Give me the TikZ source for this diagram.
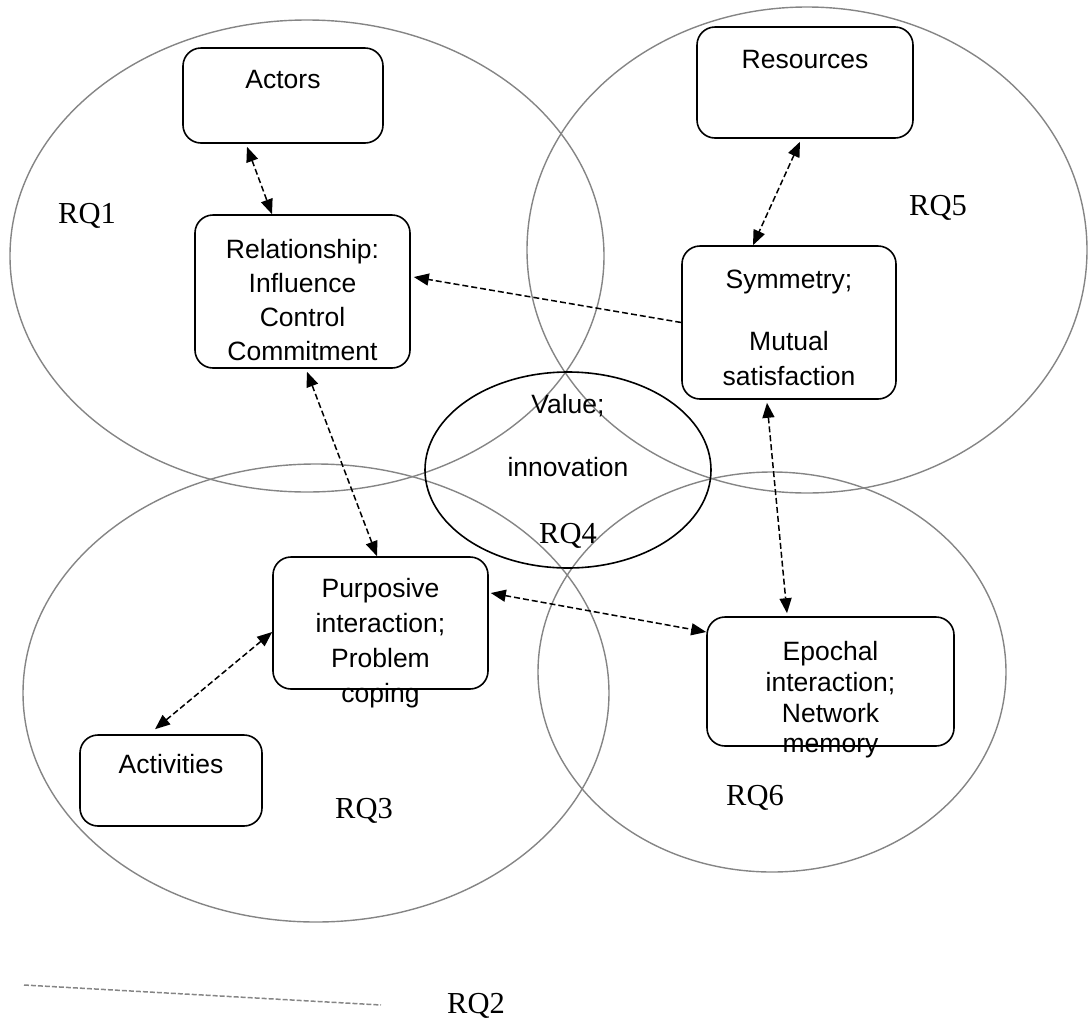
\documentclass[tikz,border=0pt]{standalone}
\usepackage{fontspec}
\newfontfamily\boxfont{Liberation Sans}
\newfontfamily\rqfont{Liberation Serif}
\usetikzlibrary{shapes.geometric,arrows.meta}

% lines of text set below the top edge of a box: offset/text pairs
\newcommand\stackedlines[2]{%
  \foreach \dy/\t [count=\k] in {#2}
    \node[btext,anchor=base] (#1-\k) at ([yshift=-\dy pt]#1.north) {\t};}

\begin{document}
\begin{tikzpicture}[x=1pt,y=-1pt,
  region/.style={draw=black!48, line width=1.4pt, ellipse, inner sep=0pt},
  rbox/.style={draw=black, line width=1.6pt, rounded corners=18pt, inner sep=0pt},
  btext/.style={font=\boxfont\fontsize{26.5}{32}\selectfont, inner sep=0pt},
  rqlabel/.style={font=\rqfont\fontsize{30.5}{36}\selectfont, inner sep=0pt, anchor=base},
  link/.style={line width=1.5pt, dash pattern=on 6pt off 3pt},
  oneway/.style={link, -{Triangle[length=15pt,width=12pt]}},
  twoway/.style={link, {Triangle[length=15pt,width=12pt]}-{Triangle[length=15pt,width=12pt]}},
  legendline/.style={draw=black!48, line width=1.5pt, dash pattern=on 5pt off 2pt}
]
\useasboundingbox (0,0) rectangle (1088,1021);

% research-question regions
\node[region, minimum width=594pt, minimum height=472pt] (rq1) at (307,256) {};
\node[region, minimum width=560pt, minimum height=486pt] (rq5) at (807,250) {};
\node[region, minimum width=586pt, minimum height=458pt] (rq3) at (316,693) {};
\node[region, minimum width=468pt, minimum height=400pt] (rq6) at (772,672) {};
\node[draw=black, line width=1.6pt, ellipse, inner sep=0pt,
      minimum width=286pt, minimum height=196pt] (val) at (568,470) {};
\stackedlines{val}{42/Value;,105/innovation}

% concept boxes
\node[rbox, minimum width=200pt, minimum height=95pt]  (act)  at (283,95.5) {};
\node[rbox, minimum width=215pt, minimum height=153pt] (rel)  at (302.5,291.5) {};
\node[rbox, minimum width=216pt, minimum height=111pt] (res)  at (805,82.5) {};
\node[rbox, minimum width=214pt, minimum height=153pt] (sym)  at (789,322.5) {};
\node[rbox, minimum width=215pt, minimum height=132pt] (pur)  at (380.5,623) {};
\node[rbox, minimum width=247pt, minimum height=129pt] (epo)  at (830.5,681.5) {};
\node[rbox, minimum width=182pt, minimum height=91pt]  (actv) at (171,780.5) {};

\stackedlines{act}{41/Actors}
\stackedlines{rel}{44/Relationship:,78/Influence,112/Control,146/Commitment}
\stackedlines{res}{42/Resources}
\stackedlines{sym}{43/Symmetry;,105/Mutual,140/satisfaction}
\stackedlines{pur}{41/Purposive,76/interaction;,111/Problem,146/coping}
\stackedlines{epo}{44/Epochal,75/interaction;,106/Network,136/memory}
\stackedlines{actv}{39/Activities}

% region labels
\node[rqlabel] (l1) at (87,223)  {RQ1};
\node[rqlabel] (l5) at (938,215) {RQ5};
\node[rqlabel] (l4) at (568,543) {RQ4};
\node[rqlabel] (l3) at (364,818) {RQ3};
\node[rqlabel] (l6) at (755,805) {RQ6};
\node[rqlabel] (l2) at (476,1013) {RQ2};

% links between concepts
\draw[twoway] ([xshift=-36pt,yshift=-3pt]act.south) -- ([xshift=-30.5pt]rel.north);
\draw[oneway] (sym.west) -- ([xshift=3pt,yshift=14.5pt]rel.east);
\draw[twoway] ([xshift=4.5pt,yshift=-3pt]rel.south) -- ([xshift=-3.5pt]pur.north);
\draw[twoway] ([xshift=-5pt,yshift=-3pt]res.south) -- ([xshift=-36pt]sym.north);
\draw[twoway] ([xshift=-22pt,yshift=-3pt]sym.south) -- ([xshift=-43.5pt,yshift=3pt]epo.north);
\draw[twoway] ([xshift=2pt,yshift=30pt]pur.east) -- ([yshift=49.5pt]epo.west);
\draw[twoway] ([yshift=-9pt]pur.west) -- ([xshift=-16pt,yshift=5pt]actv.north);

% legend line
\coordinate (lg1) at (24,985);
\coordinate (lg2) at (381,1005);
\draw[legendline] (lg1) -- (lg2);
\end{tikzpicture}
\end{document}
